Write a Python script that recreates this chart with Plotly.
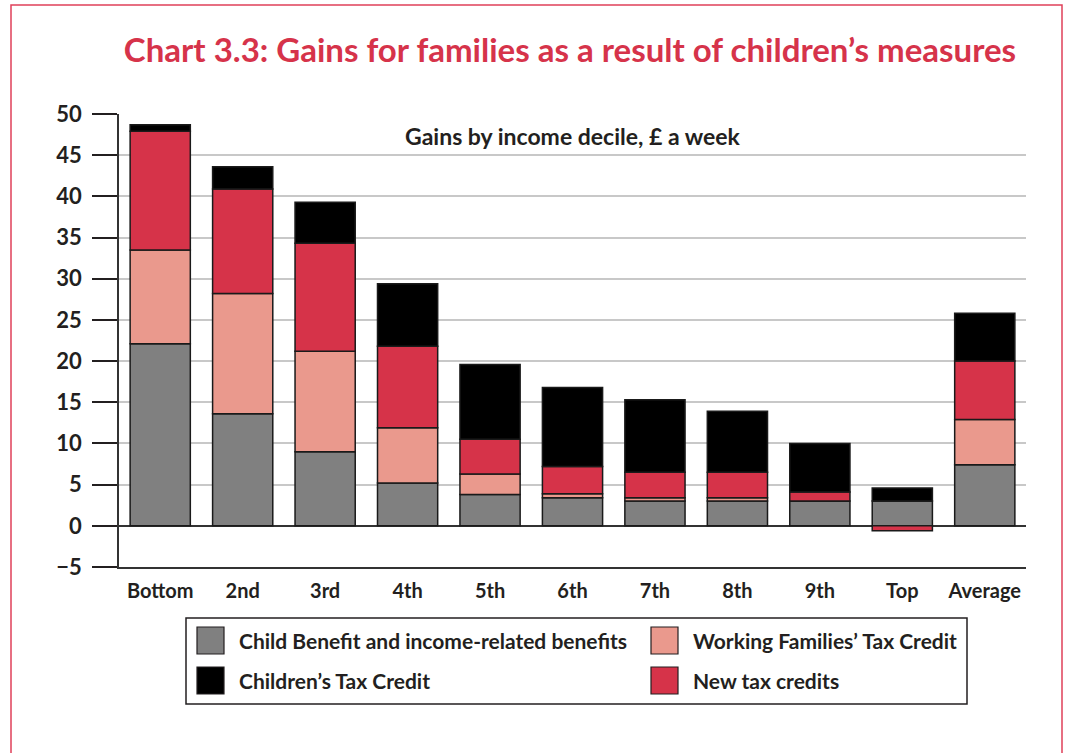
import plotly.graph_objects as go

categories = ["Bottom", "2nd", "3rd", "4th", "5th", "6th", "7th", "8th", "9th", "Top", "Average"]
child_benefit = [22.1, 13.6, 9.0, 5.2, 3.8, 3.4, 3.0, 3.0, 3.0, 3.0, 7.4]
wftc = [11.4, 14.6, 12.2, 6.7, 2.5, 0.5, 0.4, 0.4, 0.0, 0.0, 5.5]
new_tax_credits = [14.4, 12.7, 13.1, 9.9, 4.2, 3.3, 3.1, 3.1, 1.1, -0.6, 7.1]
childrens_tax_credit = [0.8, 2.7, 5.0, 7.6, 9.1, 9.6, 8.8, 7.4, 5.9, 1.6, 5.8]
y_ticks = [-5, 0, 5, 10, 15, 20, 25, 30, 35, 40, 45, 50]

series = [
    ("Child Benefit and income-related benefits", child_benefit, "#808080"),
    ("Working Families’ Tax Credit", wftc, "#EA998D"),
    ("New tax credits", new_tax_credits, "#D63349"),
    ("Children’s Tax Credit", childrens_tax_credit, "#000000"),
]

W, H = 1069, 753
L, R, T, B = 119, 43, 114, 186
PW, PH = W - L - R, H - T - B

def px(x):
    return (x - L) / PW

def py(y):
    return (H - B - y) / PH

FONT = "Lato"
TXT = "#231F20"

fig = go.Figure()
for name, vals, col in series:
    fig.add_trace(go.Bar(
        x=categories, y=vals, name=name,
        marker=dict(color=col, line=dict(color="#1a1a1a", width=1.5)),
        showlegend=False,
    ))

shapes = []
annotations = []

# outer red frame
shapes.append(dict(type="rect", xref="paper", yref="paper",
                   x0=px(11), x1=px(1062), y0=py(5), y1=py(770),
                   line=dict(color="#E0405A", width=1.5), fillcolor="rgba(0,0,0,0)", layer="below"))

# legend box
shapes.append(dict(type="rect", xref="paper", yref="paper",
                   x0=px(186), x1=px(967), y0=py(618), y1=py(704),
                   line=dict(color="#231F20", width=1.5), fillcolor="rgba(0,0,0,0)"))

legend_items = [
    (series[0][0], series[0][2], 197, 627),
    (series[1][0], series[1][2], 651, 627),
    (series[3][0], series[3][2], 197, 667),
    (series[2][0], series[2][2], 651, 667),
]
for name, col, lx, ly in legend_items:
    shapes.append(dict(type="rect", xref="paper", yref="paper",
                       x0=px(lx), x1=px(lx + 27), y0=py(ly), y1=py(ly + 27),
                       line=dict(color="#231F20", width=1.2), fillcolor=col))
    annotations.append(dict(xref="paper", yref="paper", x=px(lx + 40), y=py(ly + 13.5),
                            text=name, showarrow=False, xanchor="left", yanchor="middle",
                            font=dict(family=FONT, size=21, color=TXT, weight="bold")))

# subtitle
annotations.append(dict(xref="paper", yref="paper", x=px(573), y=py(136),
                        text="Gains by income decile, £ a week", showarrow=False,
                        xanchor="center", yanchor="middle",
                        font=dict(family=FONT, size=23, color=TXT, weight="bold")))

fig.update_layout(
    width=W, height=H,
    margin=dict(l=L, r=R, t=T, b=B, pad=0),
    paper_bgcolor="white", plot_bgcolor="white",
    barmode="relative", bargap=0.27,
    title=dict(text="Chart 3.3: Gains for families as a result of children’s measures",
               xref="container", yref="container",
               x=570 / W, xanchor="center", y=1 - 50 / H, yanchor="middle",
               font=dict(family=FONT, size=33, color="#D6334A", weight="bold")),
    shapes=shapes, annotations=annotations,
    showlegend=False,
)
fig.update_yaxes(
    range=[-5, 50], tickvals=y_ticks, showgrid=True, gridcolor="#C8C8C8", gridwidth=1.5,
    zeroline=True, zerolinecolor="#333333", zerolinewidth=1.5,
    showline=True, linecolor="#333333", linewidth=1.5,
    ticks="outside", ticklen=25, tickwidth=1.5, tickcolor="#231F20",
    ticklabelstandoff=6,
    tickfont=dict(family=FONT, size=22, color=TXT, weight="bold"),
)
fig.update_xaxes(
    range=[-0.5, 10.5], showline=True, linecolor="#333333", linewidth=1.5,
    ticks="", showgrid=False,
    tickfont=dict(family=FONT, size=20, color=TXT, weight="bold"),
    ticklabelstandoff=5,
)

fig.write_html("out.html", config={"displayModeBar": False},
               post_script="document.body.style.margin='0';document.body.style.padding='0';")
